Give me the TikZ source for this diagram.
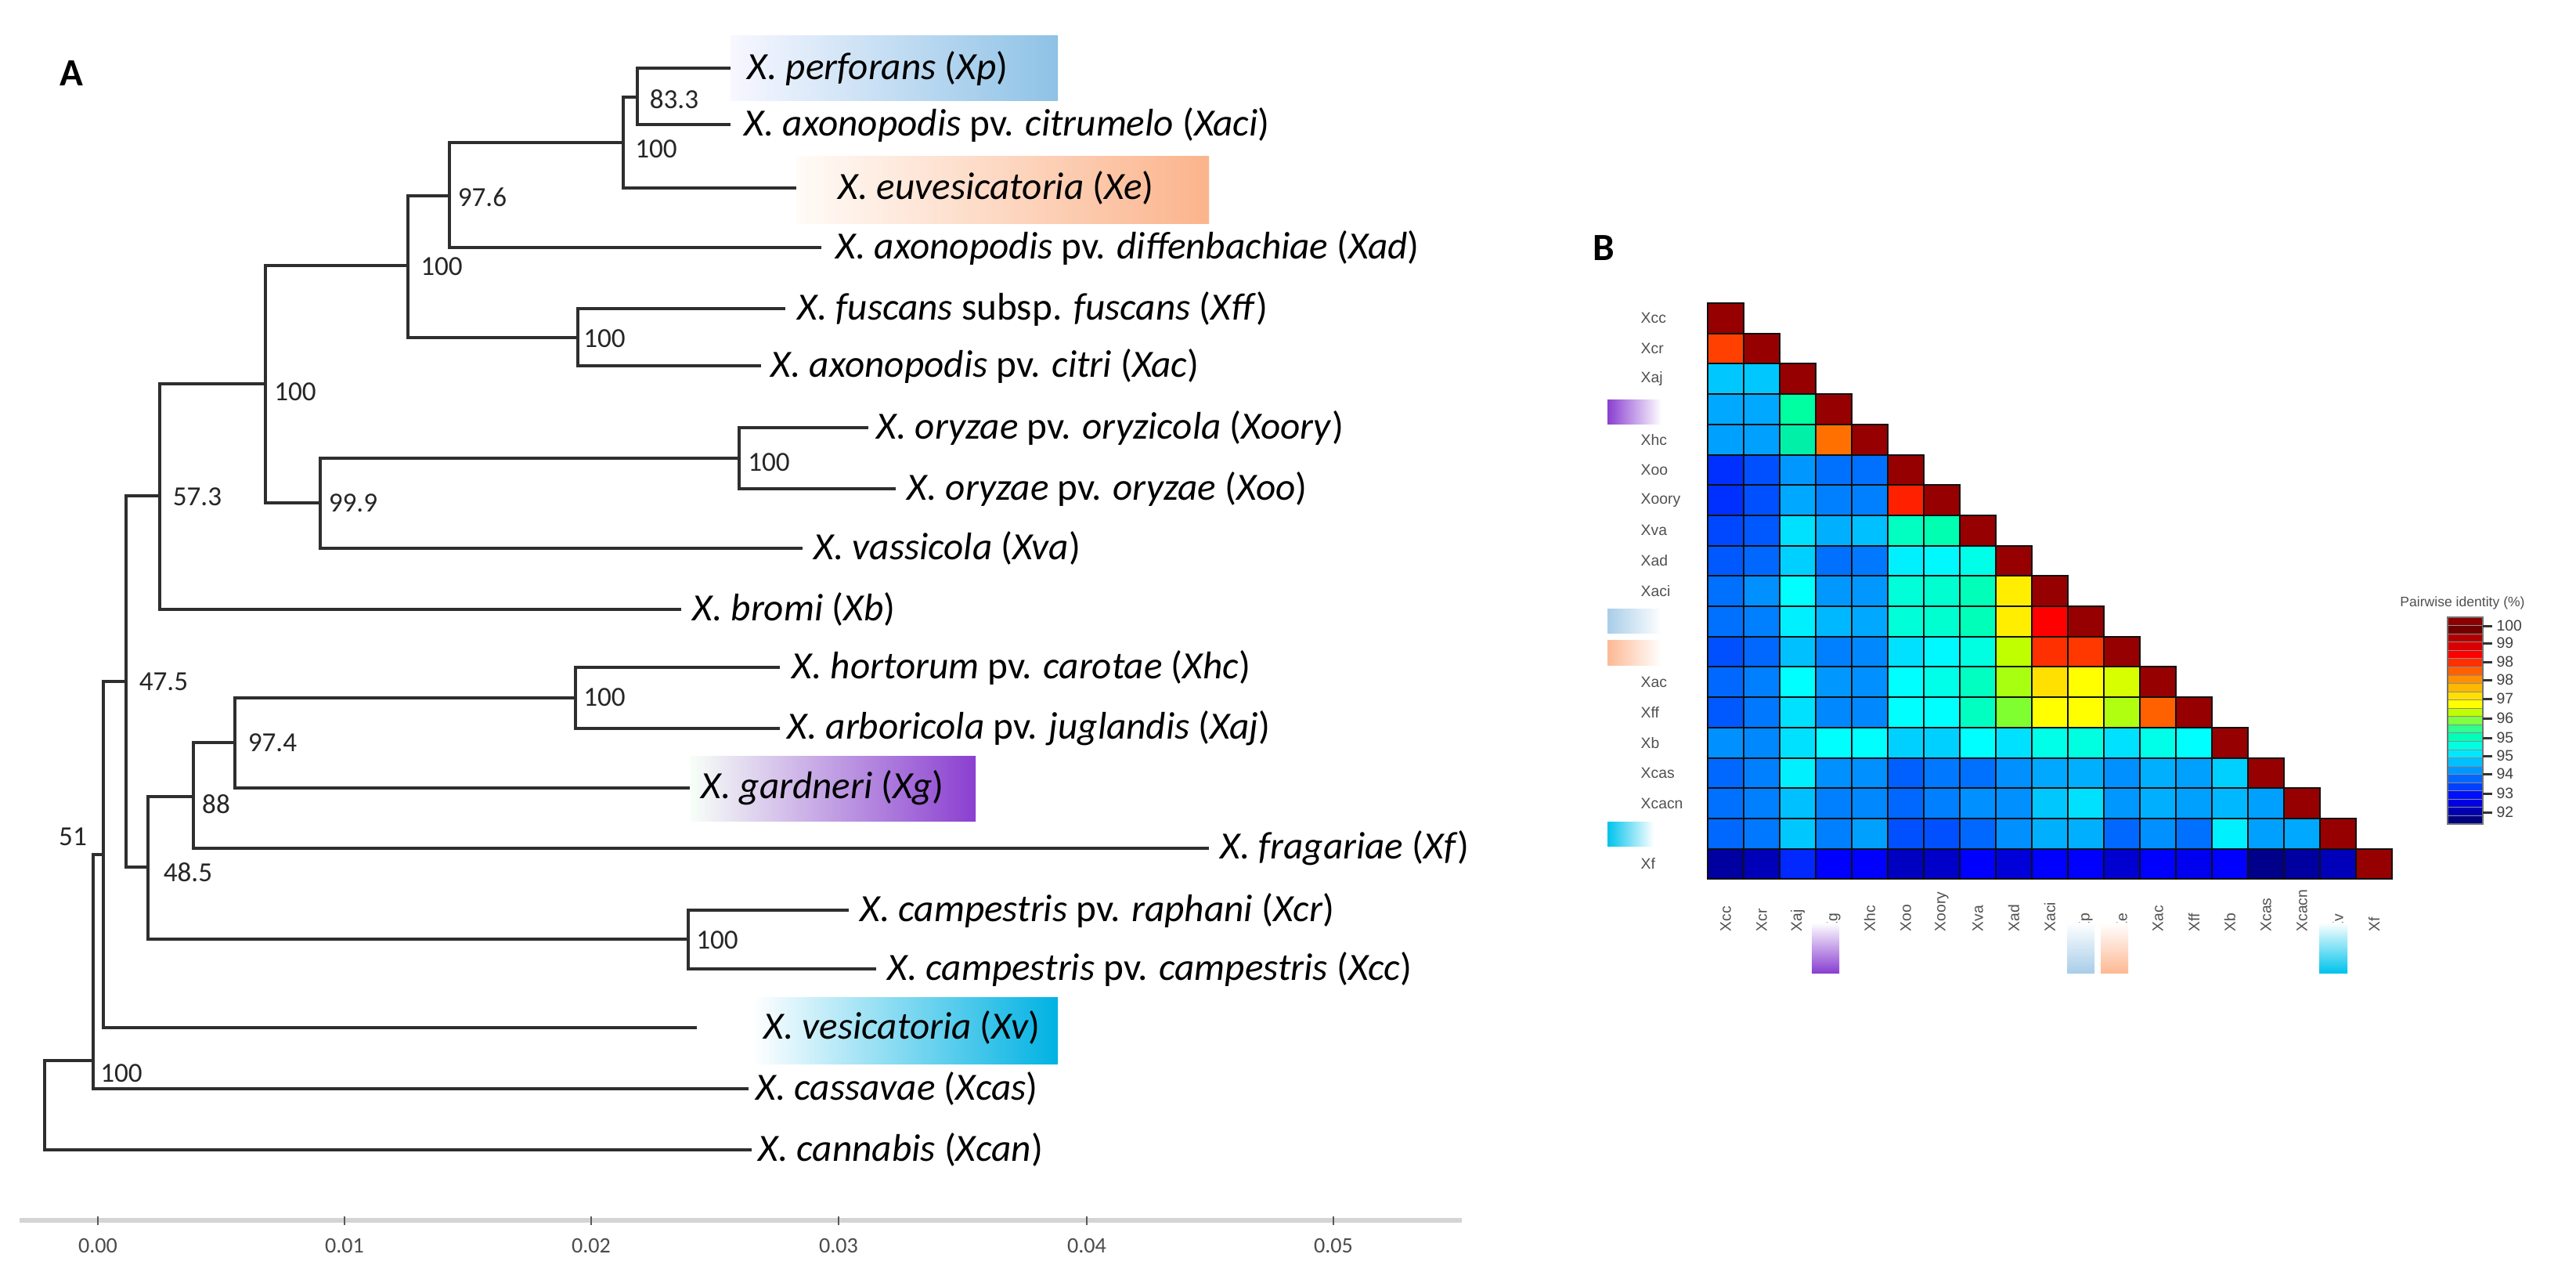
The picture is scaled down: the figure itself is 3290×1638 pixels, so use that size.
\documentclass[tikz,border=0pt]{standalone}
\usepackage{fontspec}
\setmainfont{Carlito}
\newfontfamily\hmfont{Liberation Sans}
\definecolor{treeline}{HTML}{2E2E2E}
\definecolor{hmtext}{HTML}{505050}
\definecolor{cellline}{HTML}{101010}
\definecolor{boxblue}{HTML}{8EC2E6}
\definecolor{boxorange}{HTML}{FBB48C}
\definecolor{boxpurple}{HTML}{8B3FD0}
\definecolor{boxcyan}{HTML}{00B2E3}
\definecolor{barpurple}{HTML}{8A3FD1}
\definecolor{barblue}{HTML}{A8CDE9}
\definecolor{barorange}{HTML}{FDB994}
\definecolor{barcyan}{HTML}{00C3EC}
\begin{document}
\begin{tikzpicture}[x=0.1mm,y=-0.1mm,
  br/.style={draw=treeline,line width=0.35mm},
  taxon/.style={anchor=west,inner sep=0pt,font=\fontsize{14}{16}\selectfont},
  boot/.style={inner sep=0pt,font=\fontsize{10}{12}\selectfont,text=black!85},
  panel/.style={inner sep=0pt,font=\bfseries\fontsize{14}{16}\selectfont},
  hmlab/.style={inner sep=0pt,font=\hmfont\fontsize{5.5}{6.5}\selectfont,text=hmtext},
  axlab/.style={inner sep=0pt,font=\fontsize{8}{9}\selectfont,text=black!70}
]
\useasboundingbox (0,0) rectangle (3290,1638);
\fill[white] (0,0) rectangle (3290,1638);

% ---------------- Panel A ----------------
\node[panel] (lblA) at (91,94) {A};

% highlight boxes
\shade[left color=blue!3!white, right color=boxblue] (933,45) rectangle (1351,128);
\shade[left color=orange!3!white, right color=boxorange] (1017,199) rectangle (1544,285);
\shade[left color=green!3!white, right color=boxpurple] (881,965) rectangle (1246,1048);
\shade[left color=white, right color=boxcyan] (961,1273) rectangle (1351,1358);

% leaves: name / tip x / y / label x / text
\foreach \n/\tx/\yy/\lx/\txt in {
  Xp/933/87/954/{\textit{X. perforans} (\textit{Xp})},
  Xaci/933/159/950/{\textit{X. axonopodis} pv. \textit{citrumelo} (\textit{Xaci})},
  Xe/1017/240/1070/{\textit{X. euvesicatoria} (\textit{Xe})},
  Xad/1049/316/1067/{\textit{X. axonopodis} pv. \textit{diffenbachiae} (\textit{Xad})},
  Xff/1003/394/1018/{\textit{X. fuscans} subsp. \textit{fuscans} (\textit{Xff})},
  Xac/972/467/984/{\textit{X. axonopodis} pv. \textit{citri} (\textit{Xac})},
  Xoory/1109/546/1119/{\textit{X. oryzae} pv. \textit{oryzicola} (\textit{Xoory})},
  Xoo/1144/624/1158/{\textit{X. oryzae} pv. \textit{oryzae} (\textit{Xoo})},
  Xva/1025/700/1039/{\textit{X. vassicola} (\textit{Xva})},
  Xb/870/778/884/{\textit{X. bromi} (\textit{Xb})},
  Xhc/996/852/1011/{\textit{X. hortorum} pv. \textit{carotae} (\textit{Xhc})},
  Xaj/996/930/1005/{\textit{X. arboricola} pv. \textit{juglandis} (\textit{Xaj})},
  Xg/881/1006/895/{\textit{X. gardneri} (\textit{Xg})},
  Xf/1544/1083/1558/{\textit{X. fragariae} (\textit{Xf})},
  Xcr/1084/1162/1098/{\textit{X. campestris} pv. \textit{raphani} (\textit{Xcr})},
  Xcc/1119/1237/1133/{\textit{X. campestris} pv. \textit{campestris} (\textit{Xcc})},
  Xv/890/1312/975/{\textit{X. vesicatoria} (\textit{Xv})},
  Xcas/956/1390/965/{\textit{X. cassavae} (\textit{Xcas})},
  Xcan/960/1468/968/{\textit{X. cannabis} (\textit{Xcan})}} {
  \coordinate (t\n) at (\tx,\yy);
  \node[taxon] (l\n) at (\lx,\yy) {\txt};
}

% internal nodes (x of vertical, y of stem)
\coordinate (nA) at (814,124);
\coordinate (nB) at (796,182);
\coordinate (nC) at (574,250);
\coordinate (nD) at (738,431);
\coordinate (nE) at (521,339);
\coordinate (nF) at (944,585);
\coordinate (nG) at (409,642);
\coordinate (nH) at (339,490);
\coordinate (nI) at (204,633);
\coordinate (nJ) at (735,891);
\coordinate (nK) at (300,948);
\coordinate (nL) at (247,1017);
\coordinate (nM) at (879,1199);
\coordinate (nN) at (189,1107);
\coordinate (nO) at (161,870);
\coordinate (nP) at (132,1091);
\coordinate (nQ) at (119,1354);
\coordinate (nR) at (57,1410);

\draw[br] (nA) |- (tXp);  \draw[br] (nA) |- (tXaci);
\draw[br] (nB) |- (nA);   \draw[br] (nB) |- (tXe);
\draw[br] (nC) |- (nB);   \draw[br] (nC) |- (tXad);
\draw[br] (nD) |- (tXff); \draw[br] (nD) |- (tXac);
\draw[br] (nE) |- (nC);   \draw[br] (nE) |- (nD);
\draw[br] (nF) |- (tXoory); \draw[br] (nF) |- (tXoo);
\draw[br] (nG) |- (nF);   \draw[br] (nG) |- (tXva);
\draw[br] (nH) |- (nE);   \draw[br] (nH) |- (nG);
\draw[br] (nI) |- (nH);   \draw[br] (nI) |- (tXb);
\draw[br] (nJ) |- (tXhc); \draw[br] (nJ) |- (tXaj);
\draw[br] (nK) |- (nJ);   \draw[br] (nK) |- (tXg);
\draw[br] (nL) |- (nK);   \draw[br] (nL) |- (tXf);
\draw[br] (nM) |- (tXcr); \draw[br] (nM) |- (tXcc);
\draw[br] (nN) |- (nL);   \draw[br] (nN) |- (nM);
\draw[br] (nO) |- (nI);   \draw[br] (nO) |- (nN);
\draw[br] (nP) |- (nO);   \draw[br] (nP) |- (tXv);
\draw[br] (nQ) |- (nP);   \draw[br] (nQ) |- (tXcas);
\draw[br] (nR) |- (nQ);   \draw[br] (nR) |- (tXcan);

% bootstrap values
\node[boot] (b1) at (861,127) {83.3};
\node[boot] (b2) at (838,190) {100};
\node[boot] (b3) at (616,252) {97.6};
\node[boot] (b4) at (564,340) {100};
\node[boot] (b5) at (772,432) {100};
\node[boot] (b6) at (377,500) {100};
\node[boot] (b7) at (982,590) {100};
\node[boot] (b8) at (451,642) {99.9};
\node[boot] (b9) at (252,634) {57.3};
\node[boot] (b10) at (209,870) {47.5};
\node[boot] (b11) at (772,890) {100};
\node[boot] (b12) at (348,948) {97.4};
\node[boot] (b13) at (276,1027) {88};
\node[boot] (b14) at (93,1068) {51};
\node[boot] (b15) at (240,1114) {48.5};
\node[boot] (b16) at (916,1200) {100};
\node[boot] (b17) at (155,1370) {100};

% scale axis
\draw[draw={rgb,255:red,212;green,212;blue,212}, line width=0.6mm] (25,1558) coordinate (axL) -- (1867,1558) coordinate (axR);
\foreach \xx/\lab [count=\k] in {125/0.00,440/0.01,755/0.02,1071/0.03,1388/0.04,1703/0.05} {
  \draw[black!65, line width=0.15mm] (\xx,1553) -- (\xx,1564);
  \node[axlab] (ax\k) at (\xx,1590) {\lab};
}

% ---------------- Panel B ----------------
\node[panel] (lblB) at (2048,317) {B};

\foreach \row [count=\i] in {
 {960000},
 {FF4000,960000},
 {00C8FF,00C8FF,960000},
 {00A8FF,00A8FF,00FFA0,960000},
 {00A0FF,00A0FF,00F0A8,FF7000,960000},
 {0030FF,0050FF,0098FF,0070FF,0070FF,960000},
 {0030FF,0050FF,00A8FF,0080FF,0080FF,FF2000,960000},
 {0048FF,0058FF,00E0FF,00B0FF,00C0FF,00FFC0,00FFB0,960000},
 {0058FF,0068FF,00D0FF,0070FF,0078FF,00F0FF,00F8FF,00FFE8,960000},
 {0070FF,0090FF,00FFFF,0098FF,0098FF,00FFD8,00FFD0,00FFB8,FFEE00,960000},
 {0070FF,0080FF,00F0FF,00B8FF,00A8FF,00FFD8,00FFD0,00FFB8,FFEE00,FF0000,960000},
 {0050FF,0068FF,00C0FF,0080FF,0088FF,00E0FF,00F8FF,00FFE0,C0FF00,FF3000,FF3800,960000},
 {0068FF,0080FF,00FFFF,0098FF,0090FF,00FFFF,00FFE8,00FFC0,A8FF10,FFE000,FFFF00,D8FF00,960000},
 {0058FF,0078FF,00E0FF,0088FF,0088FF,00FFFF,00FFFF,00FFC0,80FF30,FFFF00,FFFF00,B0FF10,FF6000,960000},
 {0090FF,0088FF,00E0FF,00FFFF,00FFFF,00D0FF,00D0FF,00FFFF,00E0FF,00FFE8,00FFE0,00E0FF,00FFE8,00FFFF,960000},
 {0068FF,0080FF,00F0FF,0090FF,0090FF,0060FF,0078FF,0070FF,0090FF,00A8FF,00B0FF,0090FF,00B0FF,00A0FF,00D0FF,960000},
 {0070FF,0080FF,00C0FF,0080FF,0088FF,0068FF,0080FF,0090FF,0090FF,00C8FF,00E0FF,0098FF,00B0FF,00A0FF,00B8FF,00A0FF,960000},
 {0068FF,0078FF,00C8FF,0080FF,00A0FF,0050FF,0050FF,0068FF,0090FF,00B0FF,00B0FF,0068FF,0090FF,0070FF,00F0FF,00A0FF,00A8FF,960000},
 {0000A0,0000B8,0028FF,0000FF,0000FF,0000C0,0000C8,0000FF,0000D8,0000FF,0000FF,0000D0,0000FF,0000F0,0000FF,00008B,0000A0,0000B8,960000}} {
  \foreach \c [count=\j] in \row {
    \edef\tmpdef{\noexpand\definecolor{cellc}{HTML}{\c}}\tmpdef
    \filldraw[fill=cellc, draw=cellline, line width=0.2mm]
      ({2181+(\j-1)*46},{387+(\i-1)*38.7}) rectangle ++(46,38.7);
  }
}

% row labels (rows marked by colour bars carry no visible text)
\foreach \l/\i in {Xcc/1,Xcr/2,Xaj/3,Xhc/5,Xoo/6,Xoory/7,Xva/8,Xad/9,Xaci/10,Xac/13,Xff/14,Xb/15,Xcas/16,Xcacn/17,Xf/19} {
  \node[hmlab,anchor=west] (r\i) at (2095,{387+(\i-0.5)*38.7}) {\l};
}
% column labels
\foreach \l [count=\i] in {Xcc,Xcr,Xaj,Xg,Xhc,Xoo,Xoory,Xva,Xad,Xaci,Xp,Xe,Xac,Xff,Xb,Xcas,Xcacn,Xv,Xf} {
  \node[hmlab,anchor=west,rotate=90] (c\i) at ({2181+(\i-0.5)*46},1190) {\l};
}

% row colour bars
\shade[left color=barpurple, right color=white] (2053,510) rectangle (2122,541);
\shade[left color=barblue, right color=white] (2053,777) rectangle (2122,808);
\shade[left color=barorange, right color=white] (2053,817) rectangle (2122,849);
\shade[left color=barcyan, right color=white] (2053,1049) rectangle (2112,1080);
% column colour bars
\shade[top color=white, bottom color=barpurple] (2314,1178) rectangle (2349,1242);
\shade[top color=white, bottom color=barblue] (2640,1178) rectangle (2675,1242);
\shade[top color=white, bottom color=barorange] (2683,1178) rectangle (2718,1242);
\shade[top color=white, bottom color=barcyan] (2962,1178) rectangle (2998,1242);

% legend
\node[hmlab, font=\hmfont\fontsize{5}{6}\selectfont] (legt) at (3145,770) {Pairwise identity (\%)};
\foreach \c [count=\k] in {8B0000,700000,B00000,D80000,FF0000,FF3000,FF6000,FF9000,FFB800,FFE000,FFFF00,C0FF00,80FF40,30FF90,00FFB8,00FFE0,00E8FF,00C0FF,0098FF,0068FF,0040FF,0010FF,0000E0,0000B0,000080} {
  \edef\tmpdef{\noexpand\definecolor{cellc}{HTML}{\c}}\tmpdef
  \filldraw[fill=cellc, draw=black!45, line width=0.08mm] (3126,{788+(\k-1)*10.56}) rectangle ++(45,10.56);
}
\draw[black!55, line width=0.15mm] (3126,788) rectangle (3171,1052);
\foreach \yy/\l [count=\k] in {799/100,821/99,845/98,868/98,892/97,917/96,942/95,965/95,988/94,1013/93,1037/92} {
  \draw[black!80, line width=0.3mm] (3171,\yy) -- (3183,\yy);
  \node[hmlab, anchor=west, text=black!75] (lg\k) at (3188,\yy) {\l};
}
\end{tikzpicture}
\end{document}
